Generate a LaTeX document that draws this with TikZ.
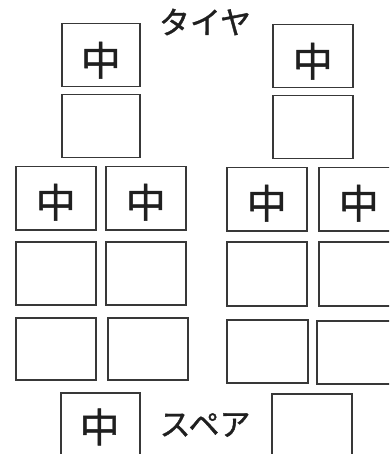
\documentclass[tikz,border=0pt]{standalone}
\usepackage{fontspec}
\newfontfamily\jp[AutoFakeBold=1.2]{Noto Sans CJK JP}
\tikzset{
  box/.style={draw=black!78, line width=1.5pt, inner sep=0pt, anchor=north west,
    minimum width=80pt, minimum height=63pt},
  kanji/.style={font=\jp\bfseries\fontsize{40}{40}\selectfont, text=black!88, inner sep=0pt},
  lbl/.style={font=\jp\bfseries\fontsize{31}{31}\selectfont, text=black!88, inner sep=0pt}
}
\begin{document}
\begin{tikzpicture}[x=1pt,y=-1pt]
\useasboundingbox (0,0) rectangle (389,454);
\clip (0,0) rectangle (389,454);
% top pairs
\node[box, minimum width=78pt] (t1) at (61,23) {};
\node[kanji] (t1t) at ([yshift=-5pt]t1.center) {中};
\node[box, minimum width=78pt] (t2) at (61,94) {};
\node[box] (t3) at (272,24) {};
\node[kanji] (t3t) at ([yshift=-5pt]t3.center) {中};
\node[box] (t4) at (272,95) {};
\node[lbl] (tire) at (205,22) {タイヤ};
% left block
\node[box] (l11) at (15,166) {};
\node[kanji] (l11t) at ([yshift=-4pt]l11.center) {中};
\node[box] (l12) at (105,166) {};
\node[kanji] (l12t) at ([yshift=-4pt]l12.center) {中};
\node[box] (l21) at (15,241) {};
\node[box] (l22) at (105,241) {};
\node[box, minimum height=62pt] (l31) at (15,317) {};
\node[box, minimum height=62pt] (l32) at (107,317) {};
% right block
\node[box] (r11) at (226,167) {};
\node[kanji] (r11t) at ([yshift=-4pt]r11.center) {中};
\node[box] (r12) at (318,167) {};
\node[kanji] (r12t) at ([yshift=-4pt]r12.center) {中};
\node[box, minimum height=64pt] (r21) at (226,241) {};
\node[box, minimum height=64pt] (r22) at (318,241) {};
\node[box, minimum width=81pt] (r31) at (226,319) {};
\node[box] (r32) at (316,320) {};
% spare
\node[box, minimum width=79pt, minimum height=80pt] (s1) at (60,392) {};
\node[kanji] (s1t) at (99.5,427) {中};
\node[box, minimum height=80pt] (s2) at (271,393) {};
\node[lbl] (spare) at (205,425) {スペア};
\end{tikzpicture}
\end{document}
